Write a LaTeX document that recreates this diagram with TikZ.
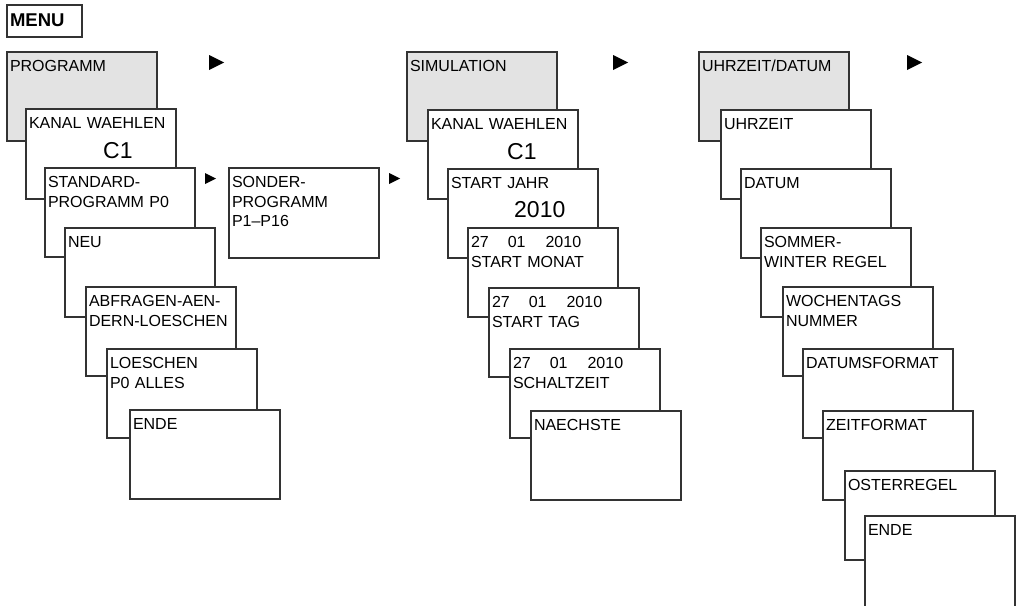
\documentclass[tikz,border=0pt]{standalone}
\usepackage{fontspec}
\setmainfont{Liberation Sans}
\newcommand{\simdatum}{27\hspace{19pt}01\hspace{20pt}2010}

\begin{document}
\begin{tikzpicture}[x=1pt, y=-1pt,
        scr/.style={draw=black!80, line width=1.2pt, fill=white, anchor=north west, outer sep=0pt,
            inner xsep=3pt, inner ysep=0pt, text width=144pt, align=left,
            text height=19.5pt, text depth=69.5pt, font=\fontsize{16}{19.5}\selectfont},
        head/.style={scr, fill=black!11},
        bigval/.style={anchor=base west, inner sep=0pt, font=\fontsize{23}{27}\selectfont},
        menubox/.style={draw=black!80, line width=1.2pt, anchor=north west, outer sep=0pt,
            inner xsep=3pt, inner ysep=0pt, text width=69pt, align=left,
            text height=22pt, text depth=10pt, font=\fontsize{18.5}{22}\selectfont\bfseries}]
        \useasboundingbox (0,0) rectangle (1019,605);
        \clip (0,0) rectangle (1019,605);
        \node[menubox] (menu) at (7,5) {MENU};

        \node[head] (prog) at (7,52) {PROGRAMM};
        \node[scr, text depth=70.5pt] (pkanal) at (26,109) {KANAL WAEHLEN};
        \node[bigval] (pkanalv) at (103,158) {C1};
        \node[scr] (pstd) at (45,168) {STANDARD-\\PROGRAMM P0};
        \node[scr] (pneu) at (65,228) {NEU};
        \node[scr] (pabfr) at (86,287) {ABFRAGEN-AEN-\\DERN-LOESCHEN};
        \node[scr] (ploesch) at (107,349) {LOESCHEN\\P0 ALLES};
        \node[scr] (pende) at (130,410) {ENDE};
        \node[scr, text depth=70.5pt] (sonder) at (229,168) {SONDER-\\PROGRAMM\\P1--P16};

        \node[head] (sim) at (407,52) {SIMULATION};
        \node[scr] (skanal) at (428,110) {KANAL WAEHLEN};
        \node[bigval] (skanalv) at (507,159) {C1};
        \node[scr] (sjahr) at (448,169) {START JAHR};
        \node[bigval] (sjahrv) at (514,217) {2010};
        \node[scr] (smonat) at (468,228) {\simdatum\\START MONAT};
        \node[scr] (stag) at (489,288) {\simdatum\\START TAG};
        \node[scr] (sschalt) at (510,349) {\simdatum\\SCHALTZEIT};
        \node[scr] (snaechst) at (531,411) {NAECHSTE};

        \node[head] (uhr) at (699,52) {UHRZEIT/DATUM};
        \node[scr] (uzeit) at (721,110) {UHRZEIT};
        \node[scr] (udatum) at (741,169) {DATUM};
        \node[scr] (usommer) at (761,228) {SOMMER-\\WINTER REGEL};
        \node[scr] (uwoche) at (783,287) {WOCHENTAGS\\NUMMER};
        \node[scr] (uformat) at (803,349) {DATUMSFORMAT};
        \node[scr] (uzformat) at (823,411) {ZEITFORMAT};
        \node[scr] (uoster) at (845,471) {OSTERREGEL};
        \node[scr, text depth=100pt] (uende) at (865,516) {ENDE};

        \foreach \x/\y/\s in {209/55/15, 613/55/15, 907/55/15, 205/173/11, 389/173/11}
            \fill[black] (\x,\y) -- ++(\s,\s/2) -- ++(-\s,\s/2) -- cycle;
\end{tikzpicture}
\end{document}
